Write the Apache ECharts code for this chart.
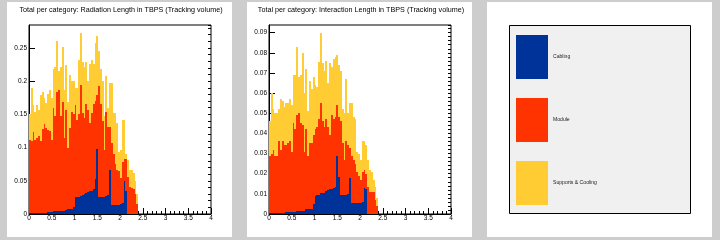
<!DOCTYPE html>
<html>
<head>
<meta charset="utf-8">
<script src="https://cdn.jsdelivr.net/npm/echarts@6.0.0/dist/echarts.min.js"></script>
<style>
html, body { margin: 0; padding: 0; background: #cdcdcd; }
#chart { width: 720px; height: 240px; }
</style>
</head>
<body>
<div id="chart"></div>
<script>
// eta histogram: bins of 0.04 starting at 0, 60 filled bins (0 - 2.4)
var binWidth = 0.04;

// radiation length, per category (stacked: cabling, module, supports)
var radCabling = [
	0.001,0.001,0.001,0.001,0.001,0.001,0.001,0.002,0.002,0.002,
	0.003,0.003,0.003,0.004,0.004,0.005,0.005,0.005,0.005,0.005,
	0.006,0.007,0.007,0.007,0.010,0.025,0.026,0.026,0.027,0.028,
	0.030,0.032,0.033,0.034,0.035,0.037,0.052,0.098,0.026,0.026,
	0.026,0.026,0.027,0.028,0.066,0.014,0.014,0.014,0.014,0.014,
	0.015,0.016,0.050,0.034,0,0,0,0,0,0
];
var radModule = [
	0.111,0.109,0.122,0.110,0.114,0.116,0.109,0.126,0.133,0.128,
	0.123,0.122,0.109,0.155,0.143,0.179,0.182,0.142,0.164,0.110,
	0.151,0.092,0.122,0.147,0.140,0.139,0.116,0.124,0.167,0.124,
	0.115,0.134,0.124,0.103,0.117,0.129,0.118,0.081,0.166,0.140,
	0.114,0.071,0.127,0.103,0.065,0.093,0.076,0.061,0.052,0.050,
	0.039,0.063,0.033,0.049,0.056,0.041,0.039,0.038,0.030,0.015
];
var radSupports = [
	0.038,0.080,0.041,0.043,0.049,0.040,0.069,0.056,0.039,0.037,
	0.055,0.061,0.063,0.060,0.075,0.076,0.028,0.075,0.083,0.072,
	0.067,0.069,0.080,0.046,0.050,0.026,0.048,0.082,0.078,0.077,
	0.077,0.063,0.043,0.089,0.080,0.060,0.087,0.089,0.053,0.053,
	0.060,0.050,0.054,0.029,0.066,0.090,0.062,0.077,0.071,0.030,
	0.043,0.062,0.058,0.008,0.025,0.025,0.027,0.023,0.019,0.015
];

// interaction length, per category
var intCabling = [
	0.0006,0.0006,0.0006,0.0006,0.0006,0.0006,0.0006,0.0006,0.0006,0.0010,
	0.0012,0.0012,0.0012,0.0012,0.0012,0.0017,0.0017,0.0017,0.0017,0.0017,
	0.0023,0.0023,0.0023,0.0023,0.0050,0.0089,0.0094,0.0094,0.0103,0.0103,
	0.0105,0.0116,0.0118,0.0123,0.0123,0.0128,0.0136,0.0288,0.0182,0.0094,
	0.0094,0.0094,0.0094,0.0098,0.0177,0.0056,0.0056,0.0056,0.0056,0.0056,
	0.0056,0.0060,0.0128,0.0125,0,0,0,0,0,0
];
var intModule = [
	0.0284,0.0294,0.0314,0.0284,0.0284,0.0354,0.0314,0.0354,0.0334,0.0330,
	0.0338,0.0348,0.0298,0.0438,0.0408,0.0473,0.0483,0.0433,0.0423,0.0293,
	0.0397,0.0267,0.0327,0.0327,0.0340,0.0331,0.0336,0.0376,0.0447,0.0357,
	0.0325,0.0354,0.0312,0.0267,0.0367,0.0342,0.0344,0.0252,0.0298,0.0366,
	0.0256,0.0176,0.0266,0.0242,0.0153,0.0234,0.0214,0.0194,0.0154,0.0134,
	0.0114,0.0150,0.0092,0.0075,0.0136,0.0110,0.0110,0.0110,0.0069,0.0040
];
var intSupports = [
	0.017,0.030,0.020,0.021,0.021,0.016,0.025,0.020,0.019,0.021,
	0.020,0.021,0.023,0.024,0.027,0.034,0.018,0.024,0.036,0.029,
	0.030,0.022,0.031,0.027,0.029,0.022,0.020,0.0286,0.0347,0.029,
	0.028,0.029,0.022,0.036,0.024,0.030,0.030,0.025,0.026,0.025,
	0.017,0.023,0.031,0.016,0.022,0.026,0.021,0.022,0.010,0.011,
	0.010,0.015,0.014,0.014,0.0134,0.011,0.010,0.006,0.0067,0.004
];

var categories = ['Cabling', 'Module', 'Supports & Cooling'];
var colors = ['#003399', '#ff3300', '#ffcc33'];
var titles = [
	'Total per category: Radiation Length in TBPS (Tracking volume)',
	'Total per category: Interaction Length in TBPS (Tracking volume)'
];
var yMax = [0.2846, 0.0938];
var yStep = [0.05, 0.01];
var font = '"Liberation Sans", Arial, sans-serif';

var myChart = echarts.init(document.getElementById('chart'));

//每个bin画成一个矩形，边缘对齐到整像素，避免相邻柱子之间出现缝
function renderBin(params, api) {
	var p0 = api.coord([api.value(0), api.value(2)]);
	var p1 = api.coord([api.value(1), api.value(3)]);
	var x0 = Math.round(p0[0]), x1 = Math.round(p1[0]);
	var y0 = Math.round(p0[1]), y1 = Math.round(p1[1]);
	if (y0 - y1 <= 0) return null;
	return {
		type: 'rect',
		shape: { x: x0, y: y1, width: x1 - x0, height: y0 - y1 },
		style: { fill: api.visual('color') }
	};
}

var grids = [], xAxes = [], yAxes = [], series = [], titleList = [];
var padX = [7, 247];
[[radCabling, radModule, radSupports], [intCabling, intModule, intSupports]].forEach(function(h, g){
	grids.push({ left: padX[g] + 22, top: 25, width: 182, height: 189, show: true,
		backgroundColor: '#fff', borderColor: '#000', borderWidth: 1 });
	titleList.push({ text: titles[g], left: padX[g] + 114, top: 7, padding: 0, textAlign: 'center',
		textStyle: { fontFamily: font, fontSize: 7.2, fontWeight: 'normal', color: '#000' } });
	xAxes.push({ type: 'value', gridIndex: g, min: 0, max: 4, interval: 0.5, position: 'bottom',
		axisLine: { show: true, lineStyle: { color: '#000', width: 1 } },
		axisTick: { inside: true, length: 6, lineStyle: { color: '#000' } },
		minorTick: { show: true, splitNumber: 5, length: 3, lineStyle: { color: '#000' } },
		splitLine: { show: false },
		axisLabel: { fontFamily: font, fontSize: 6.5, color: '#000', margin: 1 } });
	yAxes.push({ type: 'value', gridIndex: g, min: 0, max: yMax[g], interval: yStep[g],
		axisLine: { show: true, lineStyle: { color: '#000', width: 1 } },
		axisTick: { inside: true, length: 6, lineStyle: { color: '#000' } },
		splitLine: { show: false },
		axisLabel: { fontFamily: font, fontSize: 6.5, color: '#000', margin: 2, showMaxLabel: false } });
	//小刻度
	yAxes.push({ type: 'value', gridIndex: g, min: 0, max: yMax[g], interval: yStep[g] / 5,
		axisLine: { show: false }, splitLine: { show: false }, axisLabel: { show: false },
		axisTick: { inside: true, length: 3, lineStyle: { color: '#000' } } });
	//堆叠：每个类别的下沿 = 前面类别之和
	var base = h[0].map(function(){ return 0; });
	h.forEach(function(d, k){
		var items = d.map(function(v, i){
			var lo = base[i];
			base[i] = lo + v;
			return [i * binWidth, (i + 1) * binWidth, lo, lo + v];
		});
		series.push({ type: 'custom', name: categories[k],
			xAxisIndex: g, yAxisIndex: g * 2, data: items,
			encode: { x: [0, 1], y: [2, 3] },
			renderItem: renderBin,
			itemStyle: { color: colors[k] }, silent: true });
	});
});

myChart.setOption({
	animation: false,
	title: titleList,
	grid: grids,
	xAxis: xAxes,
	yAxis: yAxes,
	legend: { data: categories, orient: 'vertical', left: 516, top: 35, padding: 0,
		icon: 'rect', itemWidth: 32, itemHeight: 44, itemGap: 19, selectedMode: false,
		textStyle: { fontFamily: font, fontSize: 5.1, color: '#222' } },
	graphic: { elements: [
		{ type: 'rect', z: -100, shape: { x: 7, y: 2, width: 225, height: 235 }, style: { fill: '#fff' } },
		{ type: 'rect', z: -100, shape: { x: 247, y: 2, width: 225, height: 235 }, style: { fill: '#fff' } },
		{ type: 'rect', z: -100, shape: { x: 487, y: 2, width: 225, height: 235 }, style: { fill: '#fff' } },
		{ type: 'rect', z: -50, shape: { x: 509.5, y: 25.5, width: 181, height: 188 },
			style: { fill: '#f0f0f0', stroke: '#000', lineWidth: 1 } }
	] },
	series: series
});
</script>
</body>
</html>
